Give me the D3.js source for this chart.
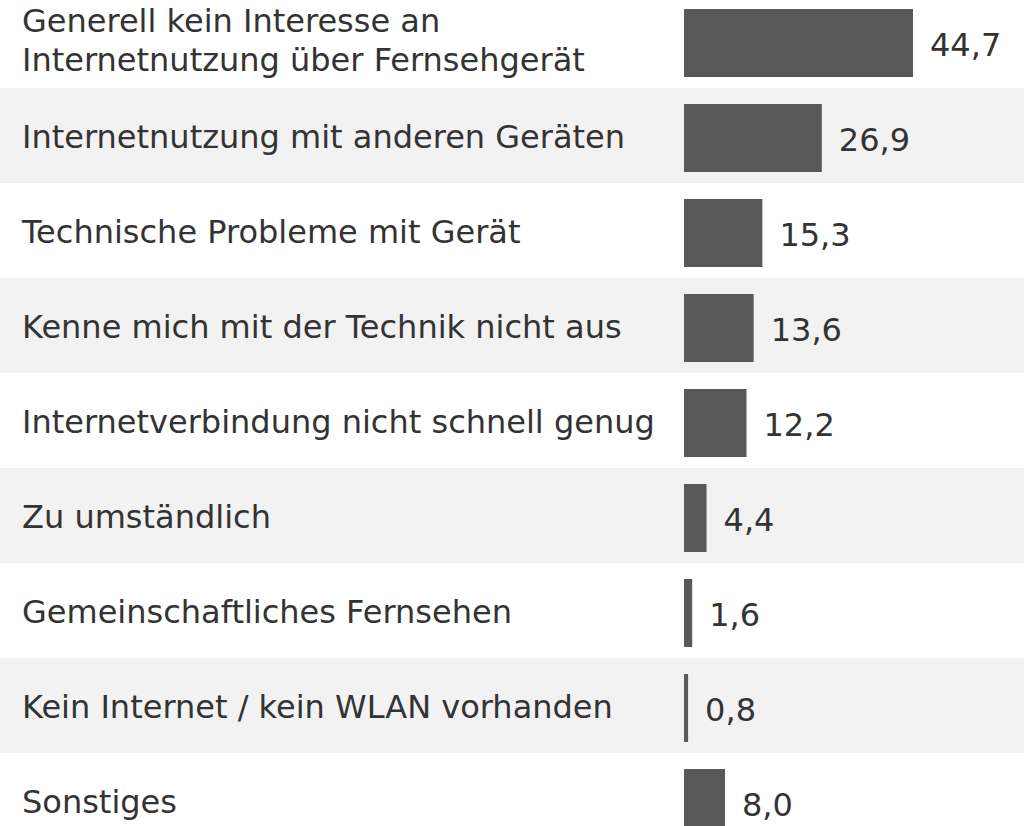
<!DOCTYPE html>
<html>
<head>
<meta charset="utf-8">
<script src="https://cdn.jsdelivr.net/npm/d3@7"></script>
<style>
  html, body { margin: 0; padding: 0; background: #fff; }
  svg { display: block; }
</style>
</head>
<body>
<svg id="chart" width="1024" height="826"></svg>
<script>
const categories = [
  ["Generell kein Interesse an", "Internetnutzung über Fernsehgerät"],
  ["Internetnutzung mit anderen Geräten"],
  ["Technische Probleme mit Gerät"],
  ["Kenne mich mit der Technik nicht aus"],
  ["Internetverbindung nicht schnell genug"],
  ["Zu umständlich"],
  ["Gemeinschaftliches Fernsehen"],
  ["Kein Internet / kein WLAN vorhanden"],
  ["Sonstiges"]
];
const values = [44.7, 26.9, 15.3, 13.6, 12.2, 4.4, 1.6, 0.8, 8.0];
const valueLabels = ["44,7", "26,9", "15,3", "13,6", "12,2", "4,4", "1,6", "0,8", "8,0"];

const rowH = 95;
const top0 = -7;
const fontSize = 32;

const svg = d3.select('#chart');

const y = d3.scaleBand()
  .domain(d3.range(categories.length))
  .range([top0, top0 + rowH * categories.length])
  .paddingInner(0).paddingOuter(0);

const x = d3.scaleLinear()
  .domain([0, 44.7])
  .range([684, 913]);

// zebra rows
svg.append('g')
  .selectAll('rect')
  .data(d3.range(categories.length))
  .enter()
  .append('rect')
    .attr('x', 0)
    .attr('y', i => y(i))
    .attr('width', 1024)
    .attr('height', y.bandwidth())
    .style('fill', i => i % 2 === 1 ? '#f2f2f2' : '#ffffff');

// bars
svg.append('g')
  .selectAll('rect')
  .data(values)
  .enter()
  .append('rect')
    .attr('x', x(0))
    .attr('y', (d, i) => y(i) + 16)
    .attr('width', d => x(d) - x(0))
    .attr('height', 68)
    .style('fill', '#595959');

// category labels
const labels = svg.append('g')
  .selectAll('text')
  .data(categories)
  .enter()
  .append('text')
    .attr('x', 22)
    .attr('y', (d, i) => y(i) + rowH / 2 + 12.8)
    .style('font-family', '"DejaVu Sans", Verdana, sans-serif')
    .style('font-size', fontSize + 'px')
    .style('fill', '#333333');

labels.each(function (lines) {
  const t = d3.select(this);
  const lh = 39.5;
  lines.forEach((line, k) => {
    t.append('tspan')
      .attr('x', 22)
      .attr('dy', k === 0 ? (lines.length > 1 ? -21.5 : 0) : lh)
      .text(line);
  });
});

// value labels
svg.append('g')
  .selectAll('text')
  .data(values)
  .enter()
  .append('text')
    .attr('x', d => x(d) + 17)
    .attr('y', (d, i) => y(i) + rowH / 2 + 15.5)
    .style('font-family', '"DejaVu Sans", Verdana, sans-serif')
    .style('font-size', fontSize + 'px')
    .style('fill', '#333333')
    .text((d, i) => valueLabels[i]);
</script>
</body>
</html>
